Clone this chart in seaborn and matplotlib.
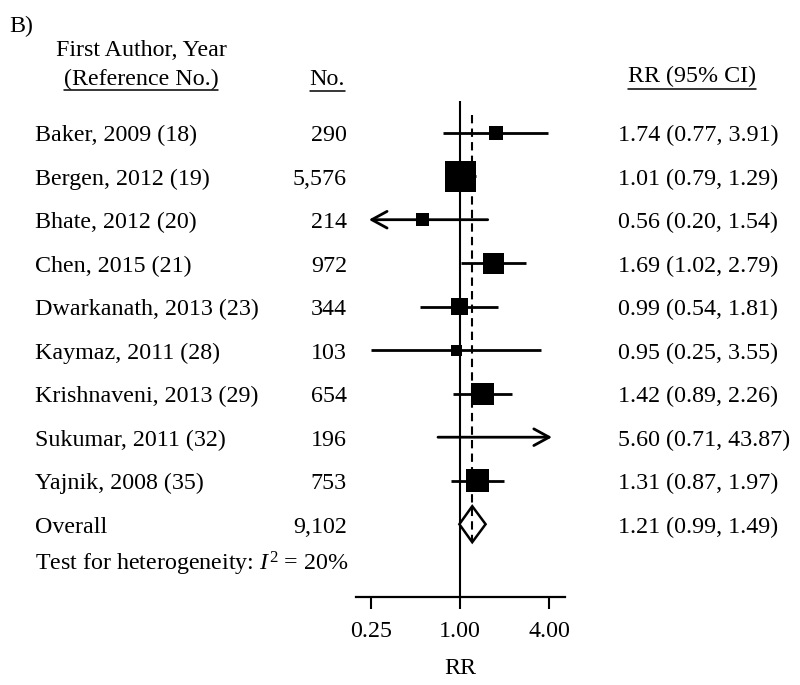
import numpy as np
import pandas as pd
import matplotlib
matplotlib.use("Agg")
import matplotlib.pyplot as plt
import matplotlib.transforms as mtransforms
from matplotlib.lines import Line2D
import seaborn as sns

# ---------------- data ----------------
studies = ["Baker, 2009 (18)", "Bergen, 2012 (19)", "Bhate, 2012 (20)",
           "Chen, 2015 (21)", "Dwarkanath, 2013 (23)", "Kaymaz, 2011 (28)",
           "Krishnaveni, 2013 (29)", "Sukumar, 2011 (32)", "Yajnik, 2008 (35)"]
n_subjects = [290, 5576, 214, 972, 344, 103, 654, 196, 753]
rr = [1.74, 1.01, 0.56, 1.69, 0.99, 0.95, 1.42, 5.60, 1.31]
ci_low = [0.77, 0.79, 0.20, 1.02, 0.54, 0.25, 0.89, 0.71, 0.87]
ci_high = [3.91, 1.29, 1.54, 2.79, 1.81, 3.55, 2.26, 43.87, 1.97]
weights = [6.1, 30.0, 5.3, 13.8, 9.1, 3.8, 15.2, 2.0, 16.6]  # approx. % weight (box area)
overall_label = "Overall"
overall_n = 9102
overall_rr = 1.21
overall_low = 0.99
overall_high = 1.49
i2_percent = 20
tick_values = [0.25, 1.00, 4.00]
tick_labels = ["0.25", "1.00", "4.00"]

# ---------------- style ----------------
sns.set_theme(style="white")
FONT = "Liberation Serif"
plt.rcParams["font.family"] = [FONT, "DejaVu Serif"]
plt.rcParams["mathtext.fontset"] = "custom"
plt.rcParams["mathtext.rm"] = FONT
plt.rcParams["mathtext.it"] = FONT + ":italic"
FS = 17.3

W, H = 800, 685
fig = plt.figure(figsize=(W / 100, H / 100), dpi=100)
fig.patch.set_facecolor("white")

def fx(px):
    return px / W

def fy(py):
    return 1 - py / H

# plot axes (pixel layout of the reference)
ax_left, ax_right, ax_top, ax_bottom = 356, 565, 101, 597
ax = fig.add_axes([fx(ax_left), fy(ax_bottom), (ax_right - ax_left) / W,
                   (ax_bottom - ax_top) / H])
ax.set_facecolor("white")

row0_px, pitch_px = 132.7, 43.5
ymin = (ax_top - row0_px) / pitch_px
ymax = (ax_bottom - row0_px) / pitch_px

ax.set_xscale("log", base=2)
ax.set_xlim(0.198, 5.13)
ax.set_ylim(ymax, ymin)

left_clip, right_clip = 0.242, 4.19
rows = np.arange(len(studies))

# reference line at 1
ax.axvline(1.0, color="black", lw=1.5, zorder=1)

# CI lines / arrows
akw = dict(arrowstyle="->,head_length=0.55,head_width=0.3", color="black",
           lw=2, shrinkA=0, shrinkB=0, mutation_scale=20)
for i, (lo, hi) in enumerate(zip(ci_low, ci_high)):
    lo_c = max(lo, left_clip)
    hi_c = min(hi, right_clip)
    if lo < left_clip:
        ax.annotate("", xy=(lo_c, i), xytext=(hi_c, i), arrowprops=akw, zorder=2)
    elif hi > right_clip:
        ax.annotate("", xy=(hi_c, i), xytext=(lo_c, i), arrowprops=akw, zorder=2)
    else:
        ax.hlines(i, lo_c, hi_c, color="black", lw=2, zorder=2)

# squares (area proportional to weight)
df = pd.DataFrame({"rr": rr, "row": rows, "w": weights})
side_max_pt = 31 * 0.72
sns.scatterplot(data=df, x="rr", y="row", size="w",
                sizes=(0, side_max_pt ** 2), size_norm=(0, max(weights)),
                marker="s", color="black", linewidth=0, legend=False,
                ax=ax, zorder=3)

# overall diamond
oy = len(studies)
half_h = 18 / pitch_px
ax.fill([overall_low, overall_rr, overall_high, overall_rr],
        [oy, oy - half_h, oy, oy + half_h],
        facecolor="white", edgecolor="black", lw=1.8, zorder=3)

# dashed line at overall estimate
ax.plot([overall_rr, overall_rr], [(115 - row0_px) / pitch_px, oy + half_h],
        color="black", lw=1.5, ls=(0, (4, 2.5)), zorder=4)

# axes cosmetics
for s in ["left", "right", "top"]:
    ax.spines[s].set_visible(False)
ax.spines["bottom"].set_color("black")
ax.spines["bottom"].set_linewidth(1.6)
ax.set_xticks(tick_values)
ax.set_xticklabels(tick_labels, fontsize=FS, family=FONT)
ax.xaxis.set_minor_locator(matplotlib.ticker.NullLocator())
ax.tick_params(axis="x", direction="out", length=8.6, width=1.5, pad=9,
               colors="black", bottom=True)
ax.set_yticks([])
ax.set_xlabel("RR", fontsize=FS, family=FONT, labelpad=11, color="black")
ax.set_ylabel("")

# ---------------- texts ----------------
trans = mtransforms.blended_transform_factory(fig.transFigure, ax.transData)
ttrans = mtransforms.offset_copy(trans, fig=fig, x=0, y=-8.5, units="dots")

tkw = dict(fontsize=FS, family=FONT, color="black", va="baseline",
           transform=ttrans, clip_on=False)
for i, (lab, n, r, lo, hi) in enumerate(zip(studies, n_subjects, rr, ci_low, ci_high)):
    fig.text(fx(35), i, lab, ha="left", **tkw)
    fig.text(fx(347), i, f"{n:,}", ha="right", **tkw)
    fig.text(fx(618), i, f"{r:.2f} ({lo:.2f}, {hi:.2f})", ha="left", **tkw)

fig.text(fx(35), oy, overall_label, ha="left", **tkw)
fig.text(fx(347), oy, f"{overall_n:,}", ha="right", **tkw)
fig.text(fx(618), oy, f"{overall_rr:.2f} ({overall_low:.2f}, {overall_high:.2f})",
         ha="left", **tkw)
fig.text(fx(35), oy + 0.88, f"Test for heterogeneity: $I^2$ = {i2_percent}%",
         ha="left", **tkw)

# headers
hkw = dict(fontsize=FS, family=FONT, color="black", va="baseline")
fig.text(fx(9), fy(32), "B)", ha="left", **hkw)
fig.text(fx(141), fy(56), "First Author, Year", ha="center", **hkw)
t_ref = fig.text(fx(141), fy(85), "(Reference No.)", ha="center", **hkw)
t_no = fig.text(fx(345), fy(85), "No.", ha="right", **hkw)
t_rr = fig.text(fx(692), fy(82), "RR (95% CI)", ha="center", **hkw)

fig.canvas.draw()
renderer = fig.canvas.get_renderer()
for t, uy in [(t_ref, 90), (t_no, 90.5), (t_rr, 89)]:
    bb = t.get_window_extent(renderer)
    fig.add_artist(Line2D([bb.x0 / W, bb.x1 / W], [fy(uy), fy(uy)],
                          transform=fig.transFigure, color="black", lw=1.1))

fig.savefig("out.png", dpi=100, facecolor="white")
